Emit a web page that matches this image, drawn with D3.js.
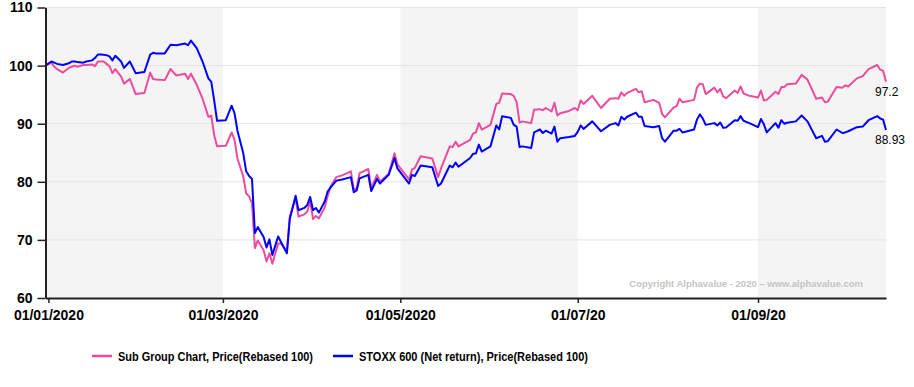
<!DOCTYPE html>
<html>
<head>
<meta charset="utf-8">
<script src="https://cdn.jsdelivr.net/npm/d3@7"></script>
<style>
  html, body { margin: 0; padding: 0; background: #fff; }
  svg { display: block; font-family: Arial, "Liberation Sans", sans-serif; }
</style>
</head>
<body>
<div id="chart"></div>
<script>
// ---------- DATA ----------
const dates = [
"2019-12-31","2020-01-02","2020-01-03","2020-01-04","2020-01-06","2020-01-08","2020-01-09","2020-01-10","2020-01-11","2020-01-13",
"2020-01-14","2020-01-16","2020-01-17","2020-01-18","2020-01-19","2020-01-20","2020-01-21","2020-01-22","2020-01-23","2020-01-24",
"2020-01-26","2020-01-27","2020-01-29","2020-01-31","2020-02-03","2020-02-05","2020-02-06","2020-02-07","2020-02-10","2020-02-12",
"2020-02-14","2020-02-17","2020-02-18","2020-02-19","2020-02-21","2020-02-23","2020-02-25","2020-02-26","2020-02-27","2020-02-28",
"2020-03-02","2020-03-04","2020-03-05","2020-03-06","2020-03-08","2020-03-09","2020-03-10","2020-03-11","2020-03-12","2020-03-13",
"2020-03-15","2020-03-16","2020-03-17","2020-03-18","2020-03-20","2020-03-21","2020-03-23","2020-03-24","2020-03-26","2020-03-27",
"2020-03-29","2020-03-30","2020-03-31","2020-04-01","2020-04-02","2020-04-03","2020-04-05","2020-04-06","2020-04-07","2020-04-09",
"2020-04-11","2020-04-14","2020-04-15","2020-04-16","2020-04-17","2020-04-20","2020-04-21","2020-04-23","2020-04-24","2020-04-27",
"2020-04-29","2020-04-30","2020-05-04","2020-05-05","2020-05-06","2020-05-08","2020-05-12","2020-05-14","2020-05-15","2020-05-18",
"2020-05-19","2020-05-20","2020-05-21","2020-05-25","2020-05-26","2020-05-27","2020-05-28","2020-05-29","2020-06-01","2020-06-03",
"2020-06-04","2020-06-05","2020-06-08","2020-06-09","2020-06-10","2020-06-11","2020-06-12","2020-06-15","2020-06-16","2020-06-18",
"2020-06-19","2020-06-20","2020-06-22","2020-06-23","2020-06-24","2020-06-25","2020-06-28","2020-06-30","2020-07-01","2020-07-02",
"2020-07-03","2020-07-06","2020-07-09","2020-07-12","2020-07-14","2020-07-15","2020-07-16","2020-07-17","2020-07-18","2020-07-21",
"2020-07-22","2020-07-23","2020-07-24","2020-07-27","2020-07-29","2020-07-30","2020-07-31","2020-08-03","2020-08-04","2020-08-05",
"2020-08-06","2020-08-10","2020-08-11","2020-08-12","2020-08-13","2020-08-14","2020-08-17","2020-08-18","2020-08-19","2020-08-20",
"2020-08-21","2020-08-24","2020-08-25","2020-08-26","2020-08-27","2020-08-29","2020-09-01","2020-09-02","2020-09-03","2020-09-04",
"2020-09-07","2020-09-08","2020-09-09","2020-09-10","2020-09-11","2020-09-14","2020-09-16","2020-09-18","2020-09-21","2020-09-23",
"2020-09-24","2020-09-25","2020-09-28","2020-09-30","2020-10-01","2020-10-02","2020-10-05","2020-10-07","2020-10-09","2020-10-12",
"2020-10-13","2020-10-14","2020-10-15"
];
const subGroup = [
100,100.5,99.8,99.4,98.8,99.6,99.8,100.0,99.8,100.1,
100.1,100.2,99.9,100.7,100.7,100.7,100.3,99.9,98.7,99.4,
98.1,96.9,97.7,95.1,95.3,98.8,97.7,97.6,97.5,99.4,
98.3,98.6,97.7,98.6,96.7,94.3,91.2,91.4,88.0,86.1,
86.2,88.5,87.2,84.0,80.9,78.0,77.5,76.3,68.6,69.9,
68.2,66.3,67.7,65.9,69.4,69.4,68.0,74.0,77.2,74.0,
74.4,74.9,76.6,73.6,74.1,73.7,75.6,77.5,79.2,80.8,
81.1,81.8,78.6,78.9,81.5,82.2,78.9,81.2,80.0,81.4,
84.9,83.0,80.4,82.1,82.4,84.4,84.0,80.8,82.3,86.1,
86.0,86.9,86.1,87.2,88.3,88.5,90.1,89.0,89.8,93.4,
93.6,95.2,95.1,94.8,93.7,90.2,90.4,90.1,92.4,92.5,
92.3,92.7,92.1,93.6,91.4,91.8,92.2,92.7,92.3,94.0,
93.4,94.8,92.7,94.3,94.4,94.3,95.4,94.8,95.3,96.0,
95.4,95.6,93.7,94.1,93.6,91.7,91.1,92.8,93.0,94.3,
93.7,94.1,96.2,96.9,96.8,95.1,96.2,95.4,96.0,94.7,
94.4,95.7,95.3,96.4,95.2,94.8,94.5,95.7,94.0,94.1,
95.5,95.1,96.3,96.3,96.8,96.9,98.4,97.6,94.3,94.5,
93.7,93.8,96.3,96.2,96.6,96.4,97.8,98.2,99.4,100.1,
99.3,99.1,97.2
];
const stoxx = [
100,100.7,100.5,100.3,100.1,100.4,100.7,100.7,100.6,100.5,
100.7,100.9,101.3,101.9,101.9,101.85,101.8,101.6,100.9,101.7,
100.7,99.6,100.7,98.7,98.9,101.9,102.2,102.1,102.1,103.6,
103.5,103.8,103.5,104.3,103.0,100.7,97.8,97.2,94.0,90.5,
90.6,93.1,91.8,88.8,84.9,81.8,81.0,80.5,71.2,72.2,
70.5,68.7,70.1,67.4,70.6,69.6,67.7,73.6,77.6,75.1,
75.5,76.0,77.4,75.1,75.5,74.7,76.6,78.3,79.0,80.2,
80.4,80.8,78.2,78.5,80.6,81.2,78.4,80.5,79.7,81.2,
84.1,82.3,79.7,81.2,81.0,82.8,82.5,79.3,79.7,82.8,
82.5,83.3,82.6,84.1,84.8,84.9,86.4,85.2,86.1,89.7,
89.0,91.3,91.0,89.8,89.5,86.0,86.1,85.8,88.5,89.0,
88.4,88.8,88.3,89.5,86.9,87.5,87.7,87.9,88.6,89.7,
89.1,90.4,88.7,89.8,90.1,89.7,91.2,90.7,91.2,91.9,
91.2,91.2,89.6,89.4,89.6,87.5,86.9,88.8,88.8,89.1,
88.5,89.0,90.7,91.6,90.9,89.8,90.1,89.7,90.2,89.3,
89.35,90.6,90.5,91.3,90.5,90.1,89.4,90.8,89.9,88.5,
90.1,89.3,90.6,90.0,90.15,90.4,91.4,90.4,87.5,87.9,
86.9,87.0,89.0,88.4,88.5,88.7,89.4,89.5,90.6,91.3,
90.9,90.7,88.93
];
const endLabels = ["97.2", "88.93"];
const seriesNames = ["Sub Group Chart, Price(Rebased 100)", "STOXX 600 (Net return), Price(Rebased 100)"];
const seriesColors = ["#EE4B9B", "#0000FF"];
const xTickDates = ["2020-01-01","2020-03-01","2020-05-01","2020-07-01","2020-09-01"];
const xTickLabels = ["01/01/2020","01/03/2020","01/05/2020","01/07/20","01/09/20"];
const yTicks = [60,70,80,90,100,110];
const bandStarts = ["2019-12-31","2020-05-01","2020-09-01"];
const bandEnds   = ["2020-03-01","2020-07-01","2020-10-15"];
const domainStart = "2019-12-31";
const domainEnd = "2020-10-15";
const copyright = "Copyright Alphavalue - 2020 \u2013 www.alphavalue.com";

// ---------- CHART ----------
const W = 914, H = 387;
const parse = d3.timeParse("%Y-%m-%d");
const svg = d3.select("#chart").append("svg").attr("width", W).attr("height", H);

const pLeft = 45.5, pRight = 886, pTop = 7.5, pBottom = 298;
const x = d3.scaleTime().domain([parse(domainStart), parse(domainEnd)]).range([pLeft, pRight]);
const y = d3.scaleLinear().domain([60, 110]).range([pBottom, pTop]);

// shaded bands
svg.append("g").selectAll("rect").data(bandStarts).join("rect")
  .attr("x", (d) => x(parse(d)))
  .attr("y", pTop)
  .attr("width", (d, i) => x(parse(bandEnds[i])) - x(parse(d)))
  .attr("height", pBottom - pTop)
  .attr("fill", "#f4f4f4");

// gridlines
svg.append("g").selectAll("line").data(yTicks.filter(v => v > 60)).join("line")
  .attr("x1", pLeft).attr("x2", pRight)
  .attr("y1", d => y(d)).attr("y2", d => y(d))
  .attr("stroke", "#e3e3e3").attr("stroke-width", 1);

// copyright
svg.append("text").attr("x", 863).attr("y", 287)
  .attr("text-anchor", "end").attr("font-size", "9.5px").attr("font-weight", "bold")
  .attr("fill", "#c4c4c4").text(copyright);

// lines
const seriesVals = [subGroup, stoxx];
const line = d3.line().x(d => x(d[0])).y(d => y(d[1]));
seriesVals.forEach((vals, s) => {
  const pts = dates.map((d, i) => [parse(d), vals[i]]);
  svg.append("path").datum(pts)
    .attr("fill", "none").attr("stroke", seriesColors[s])
    .attr("stroke-width", 2).attr("stroke-linejoin", "round")
    .attr("d", line);
  const last = pts[pts.length - 1];
  svg.append("text")
    .attr("x", x(last[0]) - 11).attr("y", y(last[1]) + 14)
    .attr("font-size", "12px").attr("fill", "#000")
    .text(endLabels[s]);
});

// axes
const yAxis = d3.axisLeft(y).tickValues(yTicks).tickSize(8).tickSizeOuter(0).tickPadding(5);
const gy = svg.append("g").attr("transform", `translate(${pLeft},0)`).call(yAxis);
gy.selectAll("text").attr("font-size", "14px").attr("font-weight", "bold").attr("fill", "#000")
  .attr("font-family", "Arial, 'Liberation Sans', sans-serif");
gy.selectAll("line").attr("stroke", "#222").attr("stroke-width", 1.5);
gy.select(".domain").attr("stroke", "#222").attr("stroke-width", 2);

const xAxis = d3.axisBottom(x).tickValues(xTickDates.map(parse))
  .tickFormat((d, i) => xTickLabels[i]).tickSize(5).tickSizeOuter(0).tickPadding(7);
const gx = svg.append("g").attr("transform", `translate(0,${pBottom})`).call(xAxis);
gx.selectAll("text").attr("font-size", "14px").attr("font-weight", "bold").attr("fill", "#000")
  .attr("font-family", "Arial, 'Liberation Sans', sans-serif");
gx.selectAll("line").attr("stroke", "#222").attr("stroke-width", 1.5);
gx.select(".domain").attr("stroke", "#222").attr("stroke-width", 2);

// legend
const legendX = [92, 333];
const legendTextWidth = [195, 229];
const lg = svg.append("g");
seriesNames.forEach((name, i) => {
  lg.append("line").attr("x1", legendX[i]).attr("x2", legendX[i] + 20)
    .attr("y1", 356).attr("y2", 356)
    .attr("stroke", seriesColors[i]).attr("stroke-width", 2.5);
  lg.append("text").attr("x", legendX[i] + 26).attr("y", 361)
    .attr("font-size", "13px").attr("font-weight", "bold").attr("fill", "#000")
    .attr("textLength", legendTextWidth[i]).attr("lengthAdjust", "spacingAndGlyphs")
    .text(name);
});
</script>
</body>
</html>
